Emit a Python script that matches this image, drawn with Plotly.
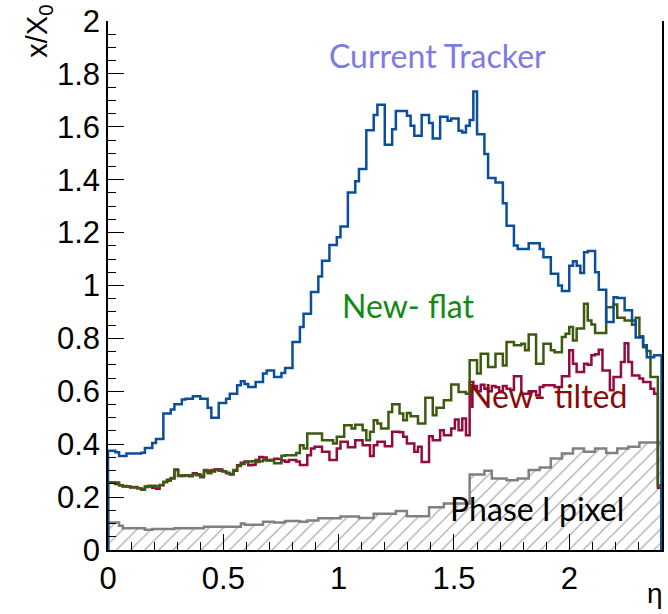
import numpy as np
import plotly.graph_objects as go

# eta binning: 150 bins from 0 to 2.4
ETA_MIN, ETA_MAX, N_BINS = 0.0, 2.4, 150

current_tracker = [
    0.375, 0.375, 0.37, 0.355, 0.355, 0.365, 0.365, 0.365, 0.365, 0.368,
    0.386, 0.386, 0.405, 0.42, 0.42, 0.516, 0.516, 0.531, 0.551, 0.551,
    0.569, 0.572, 0.572, 0.581, 0.581, 0.572, 0.572, 0.538, 0.50, 0.50,
    0.556, 0.556, 0.572, 0.591, 0.591, 0.623, 0.638, 0.628, 0.616, 0.616,
    0.635, 0.635, 0.667, 0.679, 0.679, 0.654, 0.654, 0.669, 0.688, 0.688,
    0.786, 0.786, 0.843, 0.893, 0.893, 0.975, 0.975, 1.034, 1.094, 1.094,
    1.153, 1.153, 1.182, 1.223, 1.223, 1.352, 1.352, 1.394, 1.440, 1.440,
    1.587, 1.587, 1.645, 1.683, 1.683, 1.532, 1.532, 1.591, 1.660, 1.660,
    1.660, 1.642, 1.604, 1.566, 1.566, 1.645, 1.645, 1.614, 1.556, 1.556,
    1.638, 1.638, 1.623, 1.631, 1.631, 1.585, 1.578, 1.604, 1.626, 1.733,
    1.572, 1.572, 1.497, 1.406, 1.406, 1.389, 1.389, 1.311, 1.226, 1.226,
    1.151, 1.138, 1.138, 1.138, 1.160, 1.160, 1.160, 1.138, 1.107, 1.107,
    1.044, 1.044, 1.0, 0.979, 0.979, 1.075, 1.092, 1.075, 1.047, 1.126,
    1.130, 1.130, 1.050, 0.984, 0.984, 0.862, 0.862, 0.956, 0.953, 0.953,
    0.906, 0.906, 0.868, 0.803, 0.803, 0.774, 0.729, 0.729, 0.736, 0.736,
]

new_flat = [
    0.255, 0.255, 0.255, 0.245, 0.242, 0.24, 0.238, 0.238, 0.233, 0.228,
    0.238, 0.243, 0.243, 0.24, 0.246, 0.258, 0.262, 0.272, 0.304, 0.282,
    0.28, 0.282, 0.282, 0.286, 0.283, 0.275, 0.302, 0.29, 0.302, 0.303,
    0.30, 0.298, 0.292, 0.287, 0.302, 0.318, 0.325, 0.333, 0.335, 0.336,
    0.333, 0.336, 0.34, 0.34, 0.338, 0.328, 0.328, 0.356, 0.358, 0.358,
    0.358, 0.367, 0.396, 0.384, 0.44, 0.44, 0.44, 0.44, 0.415, 0.415,
    0.415, 0.403, 0.428, 0.428, 0.472, 0.472, 0.459, 0.474, 0.474, 0.453,
    0.415, 0.447, 0.491, 0.478, 0.459, 0.459, 0.522, 0.551, 0.551, 0.516,
    0.491, 0.518, 0.506, 0.506, 0.478, 0.478, 0.576, 0.576, 0.509, 0.538,
    0.538, 0.566, 0.566, 0.626, 0.626, 0.597, 0.597, 0.591, 0.717, 0.717,
    0.667, 0.742, 0.742, 0.692, 0.692, 0.742, 0.742, 0.698, 0.786, 0.786,
    0.774, 0.774, 0.78, 0.755, 0.815, 0.815, 0.704, 0.704, 0.780, 0.780,
    0.755, 0.748, 0.748, 0.805, 0.818, 0.843, 0.792, 0.837, 0.837, 0.931,
    0.868, 0.853, 0.820, 0.820, 0.820, 0.918, 0.918, 0.928, 0.878, 0.878,
    0.868, 0.868, 0.852, 0.878, 0.808, 0.767, 0.752, 0.654, 0.654, 0.245,
]

new_tilted = [
    0.255, 0.255, 0.25, 0.245, 0.24, 0.24, 0.236, 0.236, 0.233, 0.23,
    0.24, 0.24, 0.235, 0.232, 0.245, 0.256, 0.266, 0.27, 0.302, 0.28,
    0.282, 0.283, 0.279, 0.29, 0.286, 0.28, 0.298, 0.30, 0.297, 0.305,
    0.304, 0.298, 0.29, 0.285, 0.30, 0.32, 0.33, 0.335, 0.32, 0.322,
    0.34, 0.352, 0.35, 0.338, 0.34, 0.345, 0.344, 0.338, 0.334, 0.34,
    0.34, 0.335, 0.321, 0.321, 0.358, 0.384, 0.39, 0.39, 0.371, 0.371,
    0.34, 0.34, 0.384, 0.409, 0.409, 0.388, 0.388, 0.415, 0.415, 0.396,
    0.396, 0.355, 0.396, 0.409, 0.409, 0.392, 0.392, 0.447, 0.447, 0.445,
    0.428, 0.403, 0.403, 0.371, 0.39, 0.333, 0.333, 0.43, 0.415, 0.415,
    0.453, 0.434, 0.434, 0.459, 0.493, 0.453, 0.497, 0.434, 0.635, 0.62,
    0.60, 0.625, 0.61, 0.60, 0.62, 0.615, 0.60, 0.62, 0.61, 0.605,
    0.657, 0.657, 0.591, 0.591, 0.60, 0.60, 0.585, 0.616, 0.623, 0.623,
    0.623, 0.616, 0.616, 0.657, 0.657, 0.755, 0.704, 0.673, 0.673, 0.704,
    0.70, 0.736, 0.740, 0.757, 0.679, 0.679, 0.604, 0.654, 0.654, 0.711,
    0.782, 0.711, 0.66, 0.66, 0.648, 0.635, 0.635, 0.610, 0.591, 0.235,
]

phase1_pixel = [
    0.104, 0.104, 0.104, 0.092, 0.082, 0.082, 0.082, 0.082, 0.082, 0.082,
    0.077, 0.077, 0.079, 0.079, 0.079, 0.079, 0.079, 0.079, 0.082, 0.082,
    0.082, 0.082, 0.082, 0.082, 0.082, 0.082, 0.088, 0.088, 0.088, 0.088,
    0.088, 0.088, 0.088, 0.088, 0.088, 0.088, 0.10, 0.095, 0.095, 0.095,
    0.095, 0.095, 0.107, 0.107, 0.107, 0.104, 0.104, 0.104, 0.11, 0.11,
    0.11, 0.11, 0.107, 0.107, 0.112, 0.112, 0.112, 0.12, 0.12, 0.12,
    0.12, 0.12, 0.12, 0.127, 0.127, 0.127, 0.127, 0.127, 0.121, 0.121,
    0.121, 0.121, 0.137, 0.137, 0.137, 0.137, 0.137, 0.137, 0.147, 0.147,
    0.147, 0.128, 0.128, 0.128, 0.128, 0.128, 0.128, 0.162, 0.162, 0.162,
    0.162, 0.176, 0.176, 0.176, 0.176, 0.176, 0.176, 0.176, 0.285, 0.285,
    0.285, 0.285, 0.30, 0.30, 0.27, 0.27, 0.27, 0.27, 0.264, 0.264,
    0.264, 0.27, 0.27, 0.27, 0.302, 0.302, 0.302, 0.312, 0.312, 0.312,
    0.346, 0.346, 0.346, 0.365, 0.365, 0.365, 0.384, 0.384, 0.384, 0.371,
    0.371, 0.371, 0.384, 0.384, 0.384, 0.367, 0.367, 0.367, 0.384, 0.384,
    0.384, 0.39, 0.39, 0.39, 0.406, 0.406, 0.406, 0.406, 0.406, 0.406,
]

edges = np.linspace(ETA_MIN, ETA_MAX, N_BINS + 1)


def hist_outline(values):
    """Step outline of a histogram, closed down to zero at both ends."""
    v = list(values)
    x = [edges[0]] + list(edges[:-1]) + [edges[-1], edges[-1]]
    y = [0.0] + v + [v[-1], 0.0]
    return x, y


fig = go.Figure()

# Phase I pixel: grey outline with hatched fill
x, y = hist_outline(phase1_pixel)
fig.add_trace(go.Scatter(
    x=x, y=y, mode="lines", line=dict(color="#808080", width=2.5, shape="hv"),
    fill="tozeroy", fillcolor="rgba(0,0,0,0)",
    fillpattern=dict(shape="/", fgcolor="#555555", bgcolor="rgba(0,0,0,0)",
                     size=10, solidity=0.12),
    hoverinfo="skip", showlegend=False,
))

series = [
    (new_tilted, "#920d3d"),
    (new_flat, "#3e5a10"),
    (current_tracker, "#0b4f9c"),
]
for vals, col in series:
    x, y = hist_outline(vals)
    fig.add_trace(go.Scatter(
        x=x, y=y, mode="lines", line=dict(color=col, width=2.5, shape="hv"),
        hoverinfo="skip", showlegend=False,
    ))

label_font = "Lato"
labels = [
    ("Current Tracker", 1.43, 1.868, "#7b7be6"),
    ("New- flat", 1.30, 0.925, "#138a13"),
    ("New- tilted", 1.905, 0.585, "#8b0a0a"),
    ("Phase I pixel", 1.862, 0.158, "#000000"),
]
for text, lx, ly, col in labels:
    fig.add_annotation(x=lx, y=ly, xref="x", yref="y", text=text,
                       showarrow=False, xanchor="center", yanchor="middle",
                       font=dict(family=label_font, size=32, color=col))

# axis titles
fig.add_annotation(x=-0.126, y=1.034, xref="paper", yref="paper",
                   text="x/X<sub>0</sub>", textangle=-90, showarrow=False,
                   xanchor="center", yanchor="top",
                   font=dict(family="Liberation Sans", size=29, color="black"))
fig.add_annotation(x=0.987, y=-0.082, xref="paper", yref="paper",
                   text="η", showarrow=False, xanchor="center", yanchor="middle",
                   font=dict(family="Liberation Sans", size=28, color="black"))

tick_font = dict(family="Liberation Sans", size=31, color="black")
fig.update_xaxes(
    range=[ETA_MIN, ETA_MAX + 0.002], showline=True, linecolor="black", linewidth=1.5,
    mirror=False, showgrid=False, zeroline=False,
    ticks="inside", ticklen=16, tickwidth=1, tickcolor="black",
    tick0=0, dtick=0.5, tickfont=tick_font,
    minor=dict(ticks="inside", ticklen=8, tickwidth=1, tickcolor="black", dtick=0.1),
)
fig.update_yaxes(
    range=[0, 2], showline=True, linecolor="black", linewidth=1.5,
    mirror=True, showgrid=False, zeroline=False,
    ticks="inside", ticklen=16, tickwidth=1, tickcolor="black",
    tick0=0, dtick=0.2, tickfont=tick_font,
    minor=dict(ticks="inside", ticklen=8, tickwidth=1, tickcolor="black", dtick=0.05),
)

fig.update_layout(
    width=668, height=614,
    margin=dict(l=108, r=4, t=20, b=64),
    plot_bgcolor="white", paper_bgcolor="white",
)

fig.write_html("out.html")
